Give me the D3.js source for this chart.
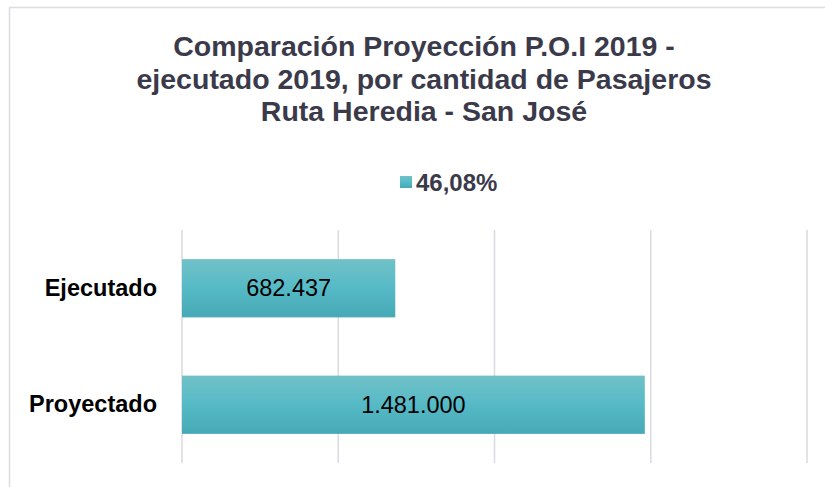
<!DOCTYPE html>
<html>
<head>
<meta charset="utf-8">
<script src="https://cdn.jsdelivr.net/npm/d3@7"></script>
<style>
  body { margin: 0; background: #fff; }
  text { font-family: "Liberation Sans", Arial, sans-serif; }
</style>
</head>
<body>
<script>
// Data
var categories = ["Ejecutado", "Proyectado"];
var values = [682437, 1481000];
var valueLabels = ["682.437", "1.481.000"];
var gridTicks = [0, 500000, 1000000, 1500000, 2000000];
var legendLabels = ["46,08%"];
var titleLines = [
  "Comparación Proyección P.O.I 2019 -",
  "ejecutado 2019, por cantidad de Pasajeros",
  "Ruta Heredia - San José"
];

var w = 825, h = 487;
var margin = {top: 230, right: 18, bottom: 24, left: 182};
var graphWidth = w - margin.left - margin.right;
var graphHeight = h - margin.top - margin.bottom;

var svg = d3.select("body").append("svg")
            .attr("width", w)
            .attr("height", h);

// gradient for the bars
var defs = svg.append("defs");
var grad = defs.append("linearGradient")
               .attr("id", "barGrad")
               .attr("x1", 0).attr("y1", 0).attr("x2", 0).attr("y2", 1);
grad.append("stop").attr("offset", "0%").attr("stop-color", "#71c1c8");
grad.append("stop").attr("offset", "50%").attr("stop-color", "#56bac6");
grad.append("stop").attr("offset", "100%").attr("stop-color", "#46a9b5");

// chart area border (only top and left visible)
svg.append("rect")
   .attr("x", 9.5).attr("y", 7.5)
   .attr("width", w + 20).attr("height", h + 20)
   .attr("fill", "none")
   .attr("stroke", "#dcdce4")
   .attr("stroke-width", 1.5);

// title
svg.append("g").selectAll("text")
   .data(titleLines)
   .enter()
   .append("text")
   .attr("x", 424)
   .attr("y", (d, i) => 56 + i * 32.5)
   .attr("text-anchor", "middle")
   .attr("font-size", "28.5px")
   .attr("font-weight", "bold")
   .attr("fill", "#3a3a4a")
   .text(d => d);

var graph = svg.append("g")
               .attr("transform", `translate(${margin.left}, ${margin.top})`);

var xScale = d3.scaleLinear()
               .domain([0, 2000000])
               .range([0, 625]);

var yScale = d3.scaleBand()
               .domain(categories)
               .range([0, graphHeight])
               .paddingInner(0.5)
               .paddingOuter(0.25);

// vertical gridlines
graph.selectAll("line.grid")
     .data(gridTicks)
     .enter()
     .append("line")
     .attr("class", "grid")
     .attr("x1", d => xScale(d))
     .attr("x2", d => xScale(d))
     .attr("y1", 0)
     .attr("y2", graphHeight)
     .attr("stroke", "#dcdbe4")
     .attr("stroke-width", 1.6);

// bars
graph.selectAll("rect.bar")
     .data(values)
     .enter()
     .append("rect")
     .attr("class", "bar")
     .attr("x", xScale(0))
     .attr("y", (d, i) => yScale(categories[i]))
     .attr("width", d => xScale(d) - xScale(0))
     .attr("height", yScale.bandwidth())
     .attr("fill", "url(#barGrad)");

// value labels
graph.selectAll("text.val")
     .data(values)
     .enter()
     .append("text")
     .attr("class", "val")
     .attr("x", d => xScale(d) / 2)
     .attr("y", (d, i) => yScale(categories[i]) + yScale.bandwidth() / 2)
     .attr("dy", "0.35em")
     .attr("text-anchor", "middle")
     .attr("font-size", "23.5px")
     .attr("fill", "#000")
     .text((d, i) => valueLabels[i]);

// category axis
var yAxis = graph.append("g")
                 .call(d3.axisLeft(yScale).tickSize(0).tickPadding(25));
yAxis.select(".domain").remove();
yAxis.selectAll("text")
     .attr("font-size", "23.5px")
     .attr("font-weight", "bold")
     .attr("fill", "#000")
     .attr("font-family", "Liberation Sans, Arial, sans-serif");

// legend
var legend = svg.append("g")
                .attr("transform", "translate(400, 176)");
legend.append("rect")
      .attr("width", 12)
      .attr("height", 12)
      .attr("fill", "url(#barGrad)");
legend.append("text")
      .attr("x", 16)
      .attr("y", 6)
      .attr("dy", "0.36em")
      .attr("font-size", "24px")
      .attr("font-weight", "bold")
      .attr("fill", "#3a3a4a")
      .text(legendLabels[0]);
</script>
</body>
</html>
